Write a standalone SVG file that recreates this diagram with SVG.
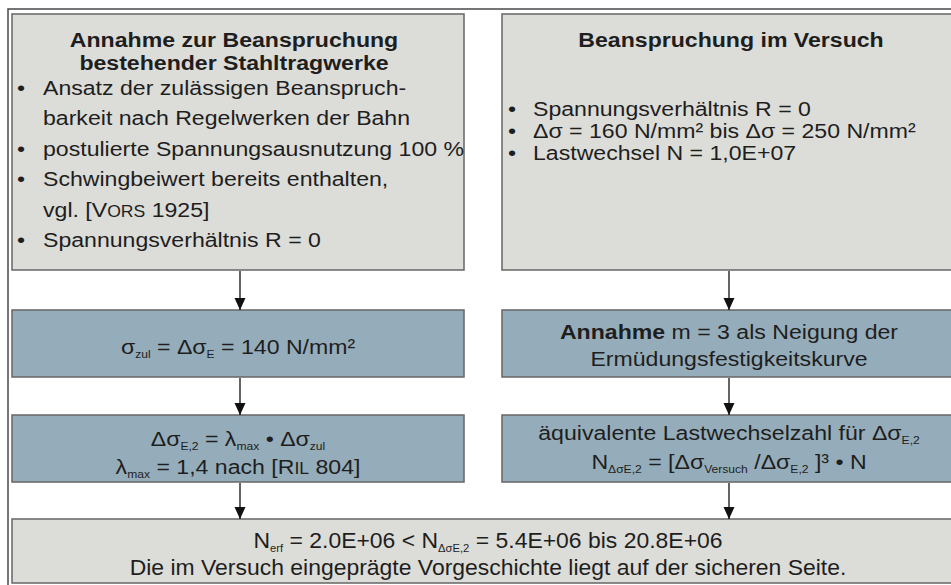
<svg xmlns="http://www.w3.org/2000/svg" width="951" height="585" viewBox="0 0 951 585">
<style>
.gray{fill:#dcdcd8;stroke:#666;stroke-width:1.5}
.blue{fill:#95adba;stroke:#666;stroke-width:1.5}
text{font-family:"Liberation Sans",Arial,sans-serif;font-size:21px;fill:#1e1e1e}
.b{font-weight:bold}
.c{text-anchor:middle}
.sub{font-size:11px}
.sm{font-size:16px}
.bt{font-size:22.5px}
.frame{fill:none;stroke:#4a4a4a;stroke-width:1.5}
.conn line{stroke:#111;stroke-width:1.3;marker-end:url(#ah)}
</style>
<defs>
<marker id="ah" viewBox="0 0 12 12" refX="12" refY="6" markerWidth="13" markerHeight="12" markerUnits="userSpaceOnUse" orient="auto">
<path d="M0,0.5 L12,6 L0,11.5 z" fill="#111"/>
</marker>
</defs>
<rect width="951" height="585" fill="#fff"/>
<path class="frame" d="M8,586 V9 H952"/>

<g id="node-annahme-beanspruchung">
<rect class="gray" x="12" y="14" width="452" height="256"/>
<g transform="translate(234 0) scale(1.1 1)">
<text class="b c" x="0" y="47">Annahme zur Beanspruchung</text>
<text class="b c" x="0" y="70">bestehender Stahltragwerke</text>
</g>
<g transform="translate(17 0) scale(1.1 1)">
<text x="0" y="95">•</text>
<text x="0" y="156">•</text>
<text x="0" y="186">•</text>
<text x="0" y="247">•</text>
</g>
<g transform="translate(43 0) scale(1.1 1)">
<text x="0" y="95">Ansatz der zulässigen Beanspruch-</text>
<text x="0" y="125">barkeit nach Regelwerken der Bahn</text>
<text x="0" y="156">postulierte Spannungsausnutzung 100 %</text>
<text x="0" y="186">Schwingbeiwert bereits enthalten,</text>
<text x="0" y="217">vgl. [V<tspan class="sm">ORS</tspan> 1925]</text>
<text x="0" y="247">Spannungsverhältnis R = 0</text>
</g>
</g>

<g id="node-beanspruchung-versuch">
<rect class="gray" x="502" y="14" width="470" height="256"/>
<g transform="translate(731 0) scale(1.1 1)">
<text class="b c" x="0" y="47">Beanspruchung im Versuch</text>
</g>
<g transform="translate(508 0) scale(1.1 1)">
<text x="0" y="116">•</text>
<text x="0" y="138">•</text>
<text x="0" y="160">•</text>
</g>
<g transform="translate(533 0) scale(1.1 1)">
<text x="0" y="116">Spannungsverhältnis R = 0</text>
<text x="0" y="138">Δσ = 160 N/mm² bis Δσ = 250 N/mm²</text>
<text x="0" y="160">Lastwechsel N = 1,0E+07</text>
</g>
</g>

<g id="node-sigma-zul">
<rect class="blue" x="12" y="310" width="452" height="67"/>
<g transform="translate(238 0) scale(1.1 1)">
<text class="c" x="0" y="354">σ<tspan class="sub" dy="4">zul</tspan><tspan dy="-4"> = Δσ</tspan><tspan class="sub" dy="4">E</tspan><tspan dy="-4"> = 140 N/mm²</tspan></text>
</g>
</g>

<g id="node-neigung">
<rect class="blue" x="502" y="310" width="470" height="67"/>
<g transform="translate(729 0) scale(1.1 1)">
<text class="c" x="0" y="339"><tspan class="b">Annahme</tspan> m = 3 als Neigung der</text>
<text class="c" x="0" y="366">Ermüdungsfestigkeitskurve</text>
</g>
</g>

<g id="node-delta-sigma-e2">
<rect class="blue" x="12" y="415" width="452" height="67"/>
<g transform="translate(238 0) scale(1.1 1)">
<text class="c" x="0" y="446">Δσ<tspan class="sub" dy="4">E,2</tspan><tspan dy="-4"> = λ</tspan><tspan class="sub" dy="4">max</tspan><tspan dy="-4"> • Δσ</tspan><tspan class="sub" dy="4">zul</tspan></text>
<text class="c" x="0" y="474">λ<tspan class="sub" dy="4">max</tspan><tspan dy="-4"> = 1,4 nach [R</tspan><tspan class="sm">IL</tspan> 804]</text>
</g>
</g>

<g id="node-aequivalent">
<rect class="blue" x="502" y="415" width="470" height="67"/>
<g transform="translate(729 0) scale(1.1 1)">
<text class="c" x="0" y="440">äquivalente Lastwechselzahl für Δσ<tspan class="sub" dy="4">E,2</tspan></text>
<text class="c" x="0" y="469">N<tspan class="sub" dy="4">ΔσE,2</tspan><tspan dy="-4"> = [Δσ</tspan><tspan class="sub" dy="4">Versuch</tspan><tspan dy="-4"> /Δσ</tspan><tspan class="sub" dy="4">E,2</tspan><tspan dy="-4"> ]³ • N</tspan></text>
</g>
</g>

<g id="node-ergebnis">
<rect class="gray" x="12" y="519" width="960" height="64"/>
<g transform="translate(488 0) scale(1.02 1)">
<text class="c bt" x="0" y="548">N<tspan class="sub" dy="4">erf</tspan><tspan dy="-4"> = 2.0E+06 &lt; N</tspan><tspan class="sub" dy="4">ΔσE,2</tspan><tspan dy="-4"> = 5.4E+06 bis 20.8E+06</tspan></text>
<text class="c bt" x="0" y="575">Die im Versuch eingeprägte Vorgeschichte liegt auf der sicheren Seite.</text>
</g>
</g>

<g id="connectors" class="conn">
<line x1="240" y1="271" x2="240" y2="310"/>
<line x1="729" y1="271" x2="729" y2="310"/>
<line x1="240" y1="378" x2="240" y2="415"/>
<line x1="729" y1="378" x2="729" y2="415"/>
<line x1="240" y1="483" x2="240" y2="519"/>
<line x1="729" y1="483" x2="729" y2="519"/>
</g>
</svg>
